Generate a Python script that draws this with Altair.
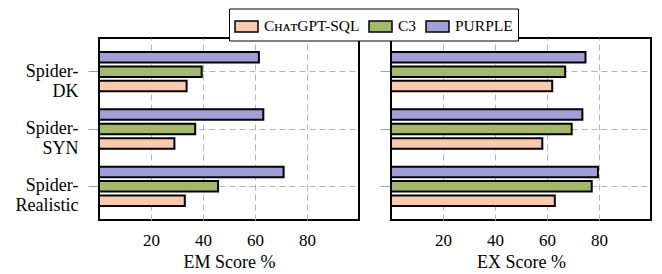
import altair as alt
import pandas as pd

datasets = ["Spider-DK", "Spider-SYN", "Spider-Realistic"]
models = ["ChatGPT-SQL", "C3", "PURPLE"]
bar_order = ["PURPLE", "C3", "ChatGPT-SQL"]

em_chatgpt_sql = [33.7, 29.0, 33.0]
em_c3 = [39.5, 37.0, 45.8]
em_purple = [61.5, 63.2, 71.0]

ex_chatgpt_sql = [62.0, 58.2, 63.0]
ex_c3 = [67.0, 69.5, 77.2]
ex_purple = [74.8, 73.6, 79.6]

x_ticks = [20, 40, 60, 80]
colors = ["#fbcaac", "#a3b967", "#a29ed7"]

rows = []
for metric, series in [("EM", [em_chatgpt_sql, em_c3, em_purple]),
                       ("EX", [ex_chatgpt_sql, ex_c3, ex_purple])]:
    for m, vals in zip(models, series):
        for d, v in zip(datasets, vals):
            rows.append({"metric": metric, "model": m, "dataset": d, "score": v})
df = pd.DataFrame(rows)

FONT = "Liberation Serif"

legend = alt.Legend(
    title=None, orient="none", legendX=130, legendY=-29.5, direction="horizontal",
    strokeColor="black", fillColor="white", padding=5,
    symbolType="M-1,-0.48L1,-0.48L1,0.48L-1,0.48Z", symbolSize=529,
    symbolStrokeColor="black", symbolStrokeWidth=1.5, symbolOpacity=1,
    labelFont=FONT, labelFontSize=15.5, labelColor="black", labelOffset=5,
    columnPadding=6,
    labelExpr="datum.label == 'ChatGPT-SQL' ? 'C\u029c\u1d00\u1d1bGPT-SQL' : datum.label",
)


def panel(metric, title, show_labels):
    yaxis = alt.Axis(
        title=None, bandPosition=0.5, grid=True, gridDash=[6, 4], gridColor="#b5b5b5",
        gridWidth=1, domain=False, ticks=True, tickSize=11, tickColor="#a0a0a0",
        labels=show_labels, labelFont=FONT, labelFontSize=18, labelColor="black",
        labelLineHeight=20, labelPadding=10, labelAlign="right",
        labelExpr="['Spider-', substring(datum.label, 7)]",
        minExtent=90 if show_labels else 10, maxExtent=90 if show_labels else 10,
    )
    xaxis = alt.Axis(
        values=x_ticks, title=title, grid=True, gridDash=[6, 4], gridColor="#b5b5b5",
        gridWidth=1, ticks=False, domain=False, labelFont=FONT, labelFontSize=17,
        labelColor="black", labelPadding=12, titleFont=FONT, titleFontSize=18,
        titleFontWeight="normal", titleColor="black", titlePadding=5,
    )
    return alt.Chart(df).transform_filter(alt.datum.metric == metric).mark_bar(
        stroke="black", strokeWidth=2
    ).encode(
        x=alt.X("score:Q", scale=alt.Scale(domain=[0, 100], nice=False), axis=xaxis),
        y=alt.Y("dataset:N", sort=datasets,
                scale=alt.Scale(paddingInner=0.314, paddingOuter=0.245), axis=yaxis),
        yOffset=alt.YOffset("model:N", sort=bar_order,
                            scale=alt.Scale(paddingInner=0.27, paddingOuter=0)),
        fill=alt.Fill("model:N", scale=alt.Scale(domain=models, range=colors), legend=legend),
    ).properties(width=260, height=182)


chart = alt.hconcat(
    panel("EM", "EM Score %", True),
    panel("EX", "EX Score %", False),
    spacing=18,
).properties(
    padding=0,
).configure(
    font=FONT,
).configure_view(
    stroke="black", strokeWidth=2,
).configure_axis(
    labelFont=FONT, titleFont=FONT,
).configure_legend(
    labelFont=FONT,
)

chart.save("out.html", embed_options={"renderer": "svg", "actions": False})
